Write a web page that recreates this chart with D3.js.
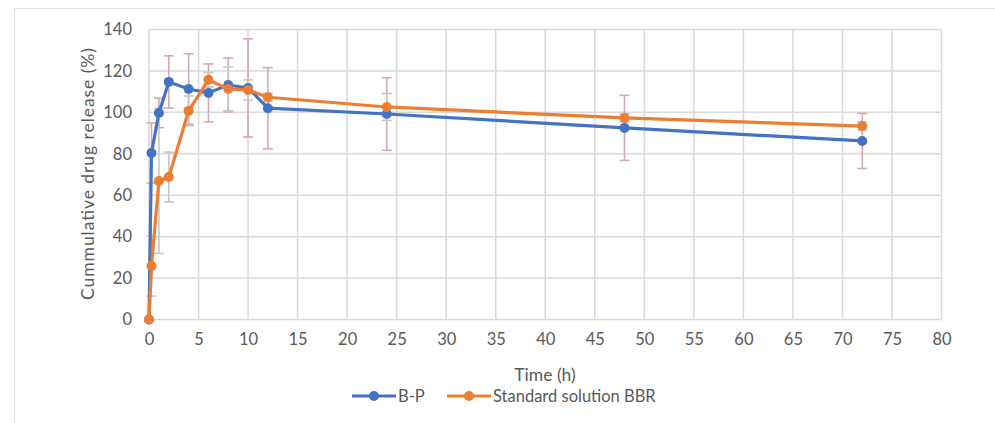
<!DOCTYPE html>
<html><head><meta charset="utf-8">
<script src="https://cdn.jsdelivr.net/npm/d3@7/dist/d3.min.js"></script>
<style>
html,body{margin:0;padding:0;background:#fff;}
svg{display:block;}
text{font-family:Lato,"Open Sans",sans-serif;fill:#595959;}
</style></head>
<body>
<script>
const time = [0, 0.25, 1, 2, 4, 6, 8, 10, 12, 24, 48, 72];
const bpValues = [0, 80.4, 99.7, 114.7, 111.3, 109.4, 113.2, 111.8, 102, 99.2, 92.5, 86.2];
const bpErrors = [0, 14.5, 7.1, 12.6, 17, 14, 13, 23.7, 19.6, 17.5, 15.7, 13.3];
const stdValues = [0, 25.8, 66.9, 68.8, 100.7, 115.7, 111.3, 110.8, 107.3, 102.6, 97.3, 93.4];
const stdErrors = [0, 14.5, 35, 12, 7.2, 3.5, 10.6, 4.9, 2, 6.5, 2, 2];
const xTicks = [0,5,10,15,20,25,30,35,40,45,50,55,60,65,70,75,80];
const yTicks = [0,20,40,60,80,100,120,140];
const seriesNames = ["B-P", "Standard solution BBR"];

const W = 995, H = 423;
const svg = d3.select("body").append("svg").attr("width", W).attr("height", H);

// chart border
svg.append("path").attr("d", `M14.5,${H} V8.5 H${W}`).attr("fill","none")
  .attr("stroke","#d9d9d9").attr("stroke-width",1);

const x = d3.scaleLinear().domain([0,80]).range([149, 941.5]);
const y = d3.scaleLinear().domain([0,140]).range([319.5, 29.5]);

// gridlines
svg.append("g").selectAll("line").data(xTicks).join("line")
  .attr("x1", d=>x(d)).attr("x2", d=>x(d)).attr("y1", y(140)).attr("y2", y(0))
  .attr("stroke","#d9d9d9").attr("stroke-width",1.5);
svg.append("g").selectAll("line").data(yTicks).join("line")
  .attr("x1", x(0)).attr("x2", x(80)).attr("y1", d=>y(d)).attr("y2", d=>y(d))
  .attr("stroke","#d9d9d9").attr("stroke-width",1.5);

// axes via d3
const xAxis = svg.append("g").attr("transform",`translate(0,${y(0)})`)
  .call(d3.axisBottom(x).tickValues(xTicks).tickSize(0).tickPadding(14));
xAxis.select(".domain").remove();
xAxis.selectAll("text").attr("font-size","16.5px").style("font-family","Lato,sans-serif").attr("fill","#595959");
const yAxis = svg.append("g").attr("transform",`translate(${x(0)},0)`)
  .call(d3.axisLeft(y).tickValues(yTicks).tickSize(0).tickPadding(17));
yAxis.select(".domain").remove();
yAxis.selectAll("text").attr("font-size","16.5px").style("font-family","Lato,sans-serif").attr("fill","#595959");

// axis titles
svg.append("text").attr("x", 545).attr("y", 381).attr("text-anchor","middle")
  .attr("font-size","17.5px").text("Time (h)");
svg.append("text").attr("transform","translate(94,174) rotate(-90)").attr("text-anchor","middle")
  .attr("font-size","17.5px").attr("textLength",252).attr("lengthAdjust","spacing")
  .text("Cummulative drug release (%)");

function errorBars(vals, errs, color) {
  const g = svg.append("g").attr("stroke", color).attr("stroke-width", 1.6).attr("fill","none");
  time.forEach((t,i) => {
    if (!errs[i]) return;
    const cx = x(t), y1 = y(vals[i]+errs[i]), y2 = y(vals[i]-errs[i]);
    g.append("line").attr("x1",cx).attr("x2",cx).attr("y1",y1).attr("y2",y2);
    g.append("line").attr("x1",cx-5).attr("x2",cx+5).attr("y1",y1).attr("y2",y1);
    g.append("line").attr("x1",cx-5).attr("x2",cx+5).attr("y1",y2).attr("y2",y2);
  });
}
errorBars(bpValues, bpErrors, "#d5a9b0");
errorBars(stdValues, stdErrors, "#c6c6c6");

function series(vals, color) {
  const line = d3.line().x((d,i)=>x(time[i])).y(d=>y(d));
  svg.append("path").datum(vals).attr("d", line).attr("fill","none")
    .attr("stroke", color).attr("stroke-width", 3.2).attr("stroke-linejoin","round");
  svg.append("g").selectAll("circle").data(vals).join("circle")
    .attr("cx",(d,i)=>x(time[i])).attr("cy", d=>y(d)).attr("r",5).attr("fill",color);
}
series(bpValues, "#4472c4");
series(stdValues, "#ed7d31");

// legend
const colors = ["#4472c4", "#ed7d31"];
const legX = [352, 447];
seriesNames.forEach((n,i) => {
  const g = svg.append("g").attr("transform",`translate(${legX[i]},396)`);
  g.append("line").attr("x1",0).attr("x2",44).attr("stroke",colors[i]).attr("stroke-width",3.2);
  g.append("circle").attr("cx",22).attr("r",5).attr("fill",colors[i]);
  g.append("text").attr("x",46).attr("y",5.5).attr("font-size","16.5px").text(n);
});
</script>
</body></html>
